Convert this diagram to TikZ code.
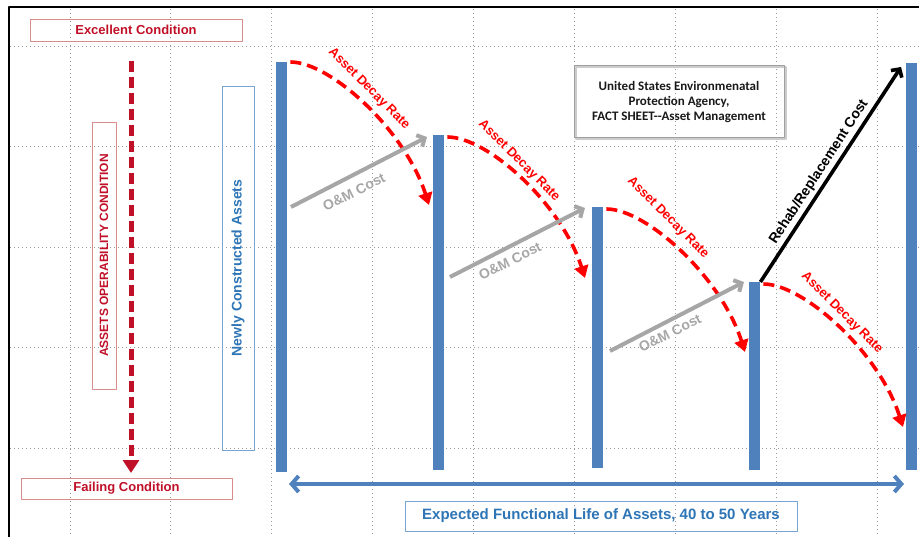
\documentclass[tikz,border=0pt]{standalone}
\usepackage{fontspec}
\setmainfont{Liberation Sans}
\newfontfamily\epafont{Carlito}
\usepackage{xcolor}
\usetikzlibrary{arrows.meta,calc,shadows}
\definecolor{condred}{RGB}{192,16,40}
\definecolor{boxred}{RGB}{217,140,140}
\definecolor{decayred}{RGB}{255,0,0}
\definecolor{barblue}{RGB}{79,129,189}
\definecolor{textblue}{RGB}{46,117,182}
\definecolor{boxblue}{RGB}{120,163,210}
\definecolor{omgray}{RGB}{166,166,166}
\tikzset{
  every picture/.style={line join=round, >=Stealth},
  gridline/.style={gray!80, line width=0.9pt, dash pattern=on 0.9pt off 3.1pt},
  redbox/.style={draw=boxred, line width=0.9pt, inner sep=0pt, text=condred, font=\fontsize{13}{15}\selectfont\bfseries},
  bluebox/.style={draw=boxblue, line width=0.8pt, inner sep=0pt, text=textblue, font=\fontsize{14}{16}\selectfont\bfseries},
  bar/.style={fill=barblue, inner sep=0pt, minimum width=11pt, anchor=north west},
  decay/.style={decayred, line width=3.6pt, dash pattern=on 11pt off 6pt, -{Triangle[length=12pt,width=14pt]}},
  decaylabel/.style={text=decayred, rotate=-45, font=\fontsize{13}{15}\selectfont\bfseries},
  omcost/.style={omgray, line width=4pt, -{Straight Barb[length=6pt,width=13pt]}},
  omlabel/.style={text=omgray, rotate=26.8, font=\fontsize{14}{16}\selectfont\bfseries},
}
\begin{document}
\begin{tikzpicture}[x=1pt,y=-1pt]
\useasboundingbox (0,0) rectangle (919,537);
% dotted grid
\foreach \i in {0,...,8}
  \draw[gridline] ({70+100.9*\i},9) -- ({70+100.9*\i},537);
\foreach \j in {0,...,4}
  \draw[gridline] (10,{46+100.5*\j}) -- (919,{46+100.5*\j});
\draw[black,line width=1.4pt] (9,537) -- (9,7) -- (919,7);

% condition scale
\node[redbox, minimum width=212, minimum height=22] (excellent) at (136,30) {Excellent Condition};
\node[redbox, minimum width=211, minimum height=21] (failing) at (126.5,488.5) {Failing Condition};
\node[redbox, rotate=90, minimum width=267, minimum height=24, font=\fontsize{12}{14}\selectfont\bfseries] (operability) at (104,255.5) {ASSETS OPERABILITY CONDITION};
\coordinate (scaletop) at (131,61);
\coordinate (scalebot) at (131,473);
\draw[condred, line width=5pt, dash pattern=on 11pt off 5pt, -{Triangle[length=13pt,width=16pt]}] (scaletop) -- (scalebot);

\node[bluebox, rotate=90, minimum width=364, minimum height=32] (newly) at (238,268) {Newly Constructed Assets};

% asset bars
\node[bar, minimum height=410] (b1) at (276,62) {};
\node[bar, minimum height=335] (b2) at (433,135) {};
\node[bar, minimum height=261] (b3) at (592,207) {};
\node[bar, minimum height=188] (b4) at (749,282) {};
\node[bar, minimum height=407] (b5) at (906,63) {};

% decay curves
\coordinate (d1) at (429,205);
\coordinate (d2) at (585,278);
\coordinate (d3) at (745,352);
\coordinate (d4) at (903,427);
\draw[decay] ($(b1.north east)+(3,0)$) .. controls +(40,0) and ($(d1)+(-24,-75)$) .. (d1);
\draw[decay] ($(b2.north east)+(3,2)$) .. controls +(40,0) and ($(d2)+(-24,-75)$) .. (d2);
\draw[decay] ($(b3.north east)+(3,2)$) .. controls +(40,0) and ($(d3)+(-24,-75)$) .. (d3);
\draw[decay] ($(b4.north east)+(3,2)$) .. controls +(40,0) and ($(d4)+(-24,-75)$) .. (d4);
\node[decaylabel] (dr1) at (369,89) {Asset Decay Rate};
\node[decaylabel] (dr2) at (519,161) {Asset Decay Rate};
\node[decaylabel] (dr3) at (668,218) {Asset Decay Rate};
\node[decaylabel] (dr4) at (842,313) {Asset Decay Rate};

% O&M arrows
\coordinate (om1) at (291,207);
\coordinate (om2) at (450,277);
\coordinate (om3) at (610,351);
\draw[omcost] (om1) -- ($(b2.north west)+(-6,2)$);
\draw[omcost] (om2) -- ($(b3.north west)+(-7,1)$);
\draw[omcost] (om3) -- ($(b4.north west)+(-5,0)$);
\node[omlabel] (oml1) at (354,192) {O\&M Cost};
\node[omlabel] (oml2) at (510,261) {O\&M Cost};
\node[omlabel] (oml3) at (670,333) {O\&M Cost};

% rehab / replacement
\coordinate (rehabtip) at (901,67);
\draw[black, line width=3.6pt, -{Straight Barb[length=6pt,width=13pt]}] (b4.north east) -- (rehabtip);
\node[rotate=56.9, font=\fontsize{14}{16}\selectfont\bfseries] (rehab) at (819,172) {Rehab/Replacement Cost};

% source box
\node[draw=gray!75, line width=1pt, minimum width=210, minimum height=72, align=center,
  font=\epafont\fontsize{13}{15}\selectfont\bfseries, text=black!90,
  drop shadow={fill=none, draw=black!20, line width=2pt, shadow xshift=1.5pt, shadow yshift=-1.5pt, opacity=1}]
  (epa) at (679,102) {United States Environmenatal\\Protection Agency,\\FACT SHEET--Asset Management};

% functional life
\coordinate (lifeL) at (289,484);
\coordinate (lifeR) at (904,484);
\draw[barblue, line width=4pt, {Straight Barb[length=7pt,width=16pt]}-{Straight Barb[length=7pt,width=16pt]}] (lifeL) -- (lifeR);
\node[bluebox, minimum width=392, minimum height=30, font=\fontsize{15}{17}\selectfont\bfseries] (life) at (601,516) {Expected Functional Life of Assets, 40 to 50 Years};
\end{tikzpicture}
\end{document}
